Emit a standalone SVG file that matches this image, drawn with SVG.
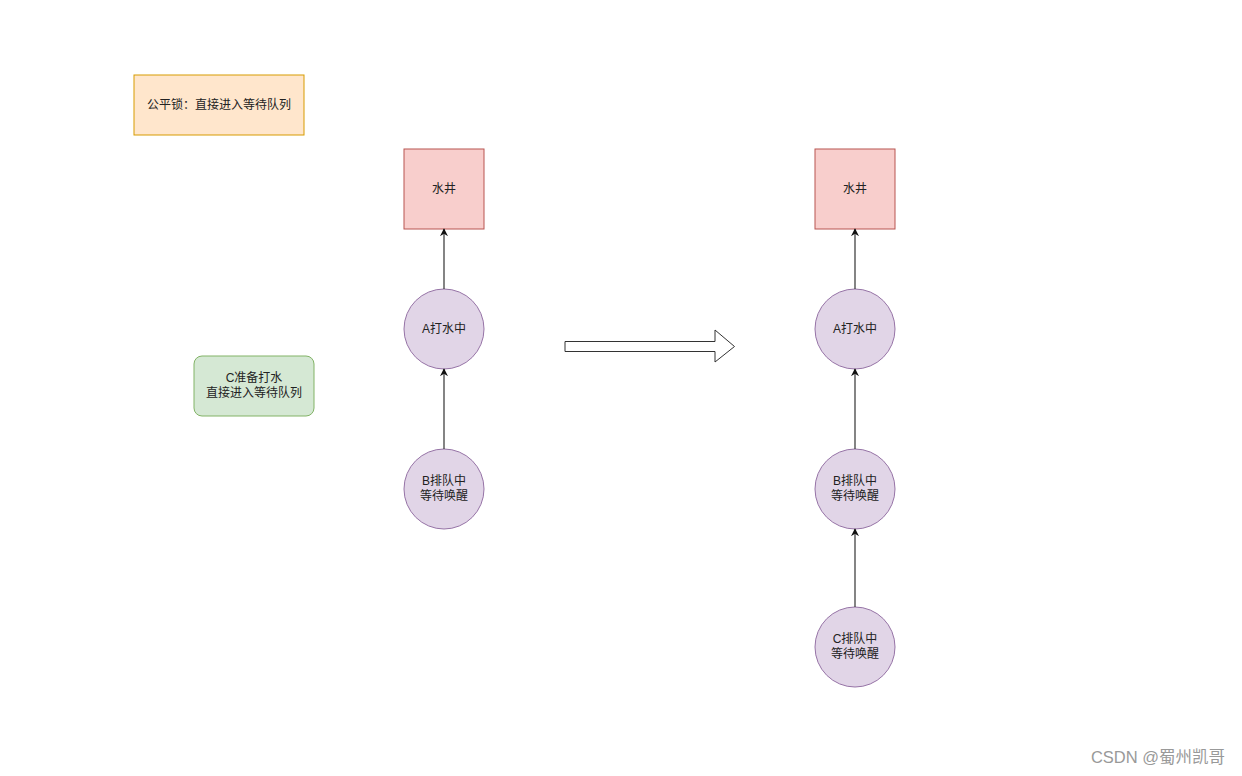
<svg xmlns="http://www.w3.org/2000/svg" width="1242" height="776" viewBox="0 0 1242 776">
<style>
text{font-family:"Liberation Sans","Noto Sans CJK SC",sans-serif;font-size:12px;fill:#222;text-anchor:middle;dominant-baseline:central}
.well{fill:#f8cecc;stroke:#b85450;stroke-width:1}
.q{fill:#e1d5e7;stroke:#9673a6;stroke-width:1}
.edge{stroke:#333;stroke-width:1.2;fill:none;marker-end:url(#ah)}
</style>
<defs>
<marker id="ah" viewBox="0 0 10 10" refX="9" refY="5" markerWidth="8" markerHeight="8" markerUnits="userSpaceOnUse" orient="auto">
<path d="M0,0 L10,5 L0,10 L3,5 z" fill="#111"/>
</marker>
</defs>
<rect width="1242" height="776" fill="#fff"/>
<g id="note-fair">
<rect x="134" y="75" width="170" height="60" fill="#ffe6cc" stroke="#d79b00"/>
<text x="219" y="105">公平锁：直接进入等待队列</text>
</g>
<g id="note-c">
<rect x="194" y="356" width="120" height="60" rx="8" fill="#d5e8d4" stroke="#82b366"/>
<text x="254" y="378">C准备打水</text>
<text x="254" y="393">直接进入等待队列</text>
</g>
<g id="well-left"><rect class="well" x="404" y="149" width="80" height="80"/><text x="444" y="189">水井</text></g>
<g id="a-left"><circle class="q" cx="444" cy="329" r="40"/><text x="444" y="329">A打水中</text></g>
<g id="b-left"><circle class="q" cx="444" cy="489" r="40"/><text x="444" y="481">B排队中</text><text x="444" y="496">等待唤醒</text></g>
<g id="well-right"><rect class="well" x="815" y="149" width="80" height="80"/><text x="855" y="189">水井</text></g>
<g id="a-right"><circle class="q" cx="855" cy="329" r="40"/><text x="855" y="329">A打水中</text></g>
<g id="b-right"><circle class="q" cx="855" cy="489" r="40"/><text x="855" y="481">B排队中</text><text x="855" y="496">等待唤醒</text></g>
<g id="c-right"><circle class="q" cx="855" cy="647" r="40"/><text x="855" y="639">C排队中</text><text x="855" y="654">等待唤醒</text></g>
<g id="transition">
<path d="M565,341.5 L715,341.5 L715,330 L734.5,346.5 L715,362 L715,351.5 L565,351.5 Z" fill="#fff" stroke="#333" stroke-width="1"/>
</g>
<g id="connectors">
<line class="edge" x1="444" y1="289" x2="444" y2="229"/>
<line class="edge" x1="444" y1="449" x2="444" y2="369"/>
<line class="edge" x1="855" y1="289" x2="855" y2="229"/>
<line class="edge" x1="855" y1="449" x2="855" y2="369"/>
<line class="edge" x1="855" y1="607" x2="855" y2="529"/>
</g>
<text x="1158" y="757" style="font-size:16.5px;fill:#999">CSDN @蜀州凯哥</text>
</svg>
